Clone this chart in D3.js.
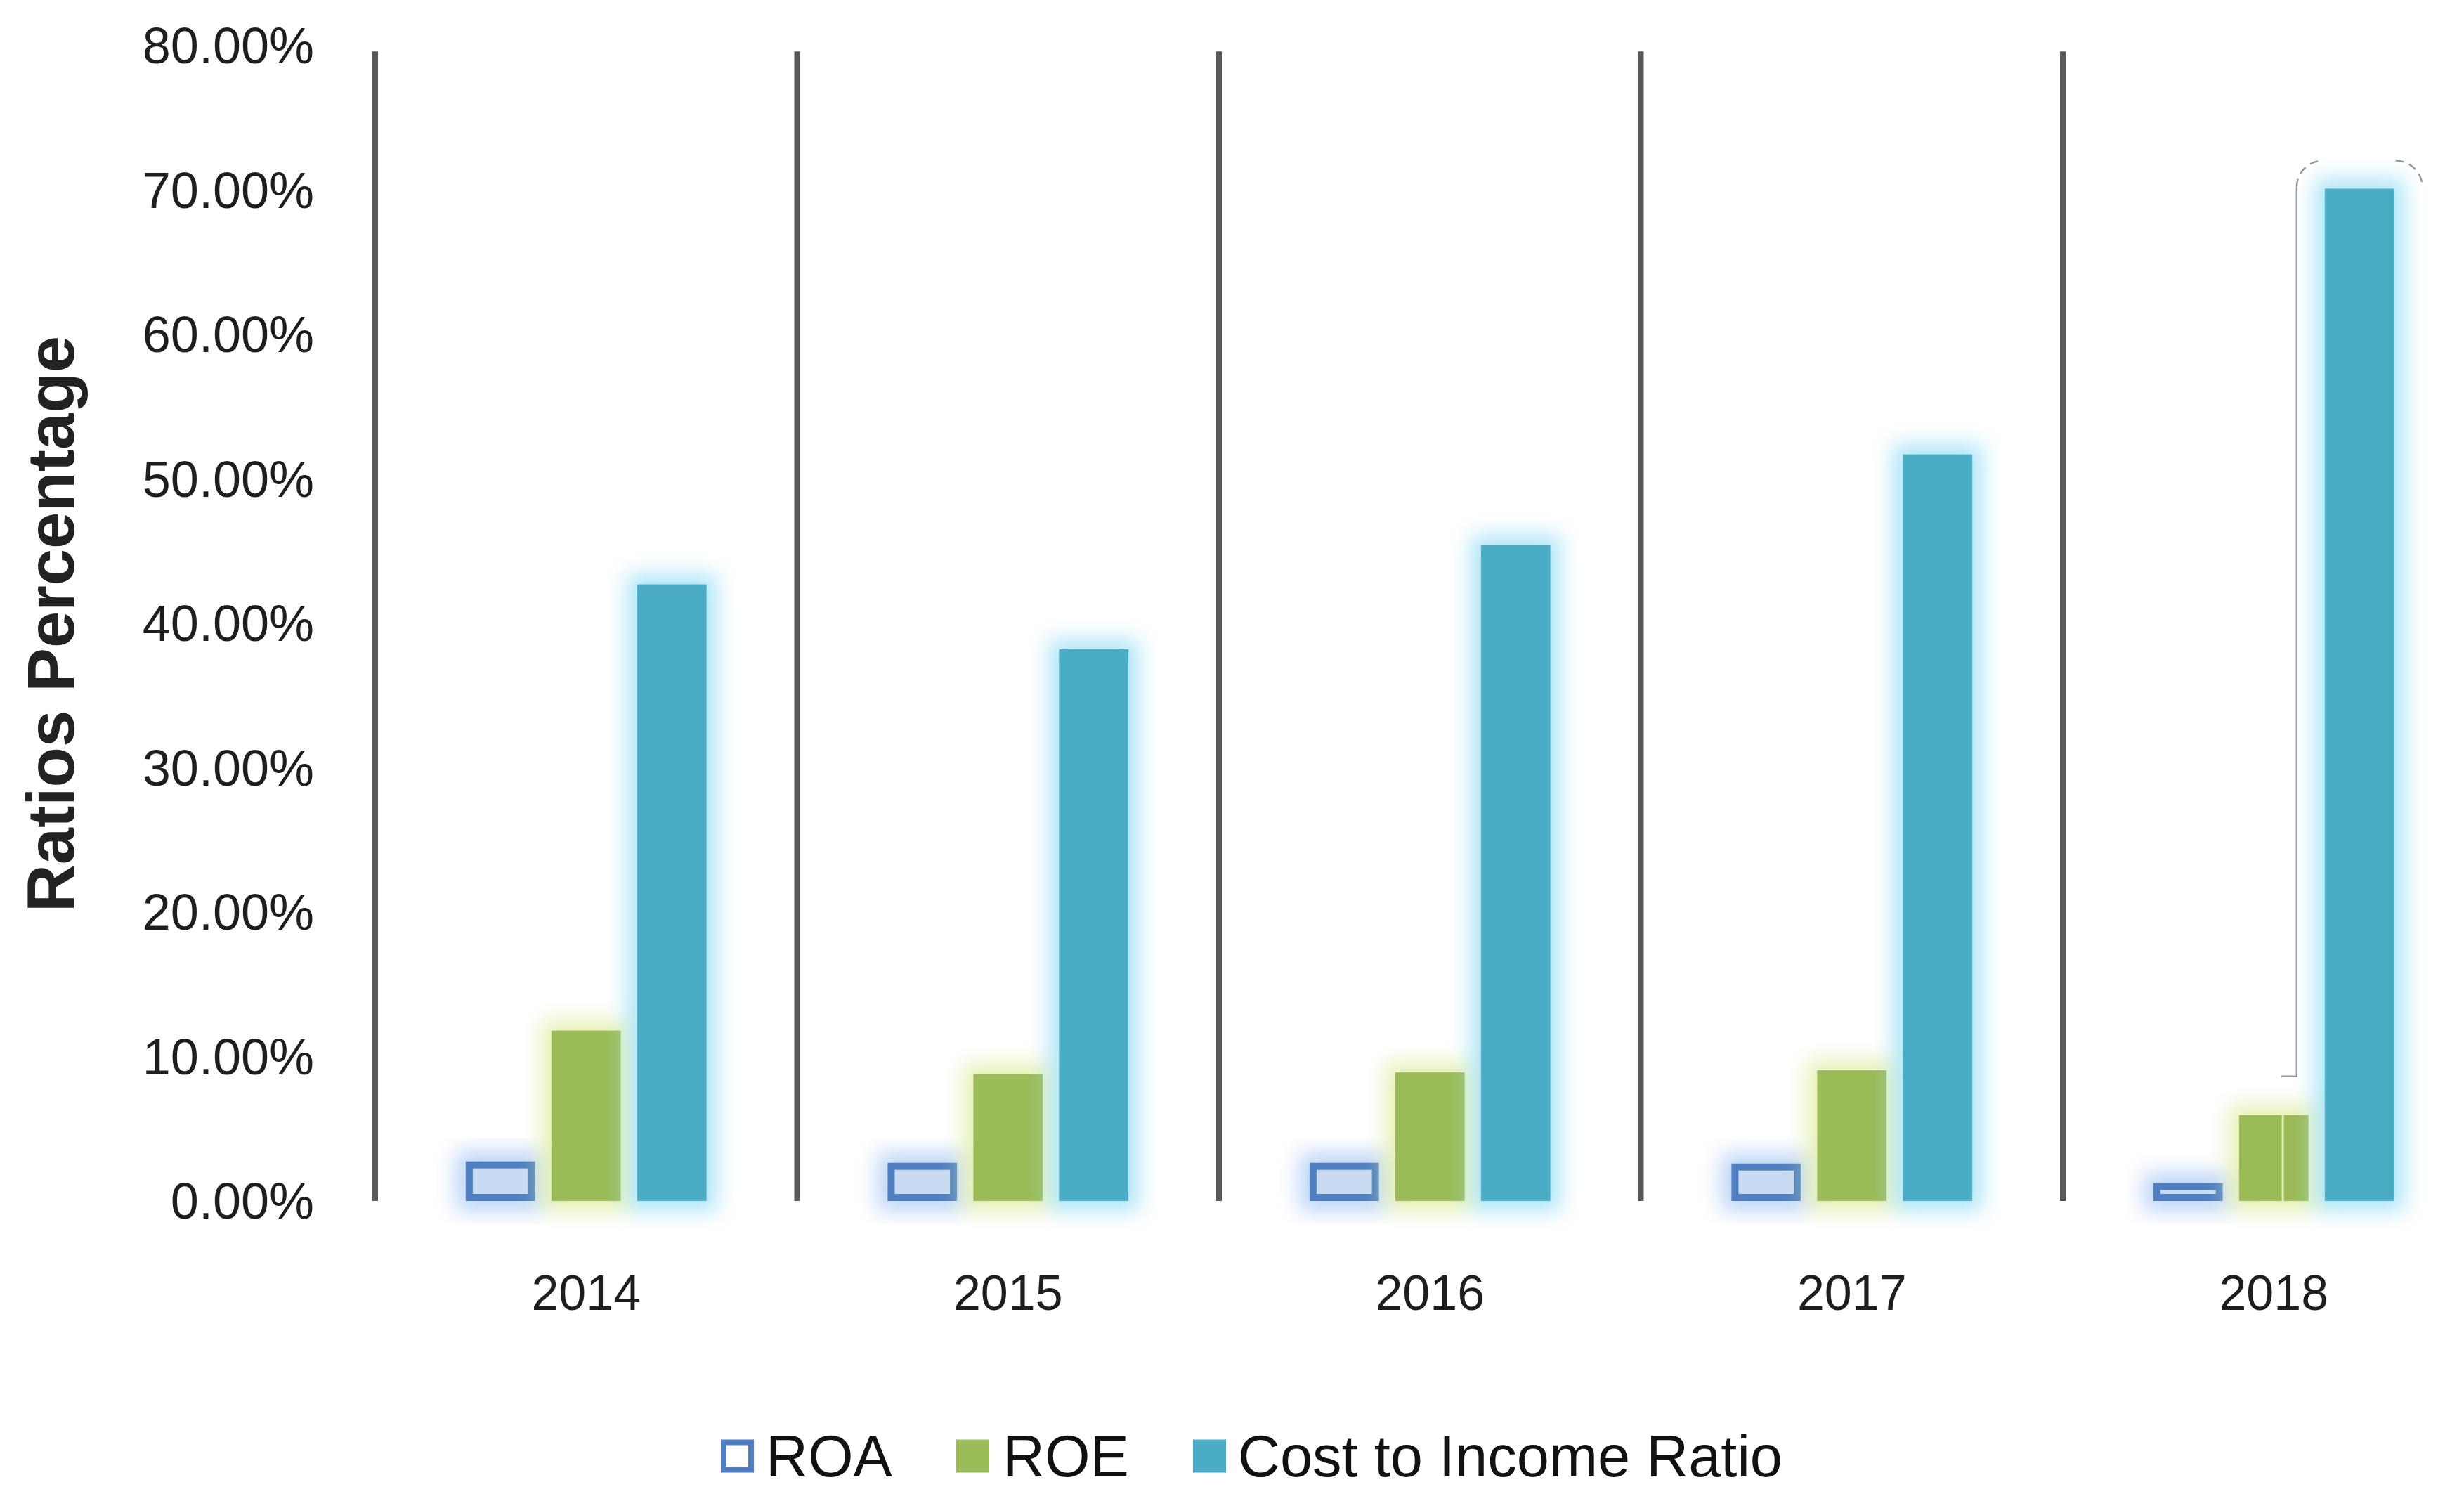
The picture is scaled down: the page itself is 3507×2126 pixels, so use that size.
<!DOCTYPE html>
<html>
<head>
<meta charset="utf-8">
<script src="https://cdn.jsdelivr.net/npm/d3@7"></script>
<style>
  html, body { margin: 0; padding: 0; background: #ffffff; }
  svg { display: block; }
  text { font-family: Arial, "Liberation Sans", sans-serif; }
</style>
</head>
<body>
<svg id="chart" width="3507" height="2126"></svg>
<script>
// ---- data ----
const years = ["2014", "2015", "2016", "2017", "2018"];
const seriesNames = ["ROA", "ROE", "Cost to Income Ratio"];
const roa = [2.5, 2.4, 2.4, 2.35, 1.0];
const roe = [11.8, 8.8, 8.9, 9.05, 5.95];
const costToIncome = [42.7, 38.2, 45.4, 51.7, 70.1];
const yTicks = [0, 10, 20, 30, 40, 50, 60, 70, 80];
const yTitle = "Ratios Percentage";

// ---- layout ----
const W = 3507, H = 2126;
const svg = d3.select("#chart");
const plotLeft = 534, bandStep = 600.5;
const plotTop = 65, plotBottom = 1709;

const x = d3.scaleBand().domain(years)
  .range([plotLeft, plotLeft + bandStep * years.length]).padding(0);
const pi = 0.19;
const xs = d3.scaleBand().domain(seriesNames)
  .range([-183, 183]).paddingInner(pi).paddingOuter(pi / 2);
const y = d3.scaleLinear().domain([0, 80]).range([plotBottom, plotTop]);

const colors = {
  "ROA": { fill: "#c8daf2", stroke: "#4f7fc1", glow: "#b3cff5" },
  "ROE": { fill: "#9bbb59", stroke: null, glow: "#e2efaa" },
  "Cost to Income Ratio": { fill: "#4bacc6", stroke: null, glow: "#a2e2f6" }
};

// ---- filters ----
const defs = svg.append("defs");
seriesNames.forEach((s, i) => {
  const f = defs.append("filter").attr("id", "glow" + i)
    .attr("x", "-80%").attr("y", "-80%").attr("width", "260%").attr("height", "260%");
  f.append("feMorphology").attr("in", "SourceAlpha").attr("operator", "dilate")
    .attr("radius", 14).attr("result", "d");
  f.append("feGaussianBlur").attr("in", "d").attr("stdDeviation", 15).attr("result", "b");
  f.append("feFlood").attr("flood-color", colors[s].glow).attr("flood-opacity", 0.9);
  f.append("feComposite").attr("in2", "b").attr("operator", "in").attr("result", "g");
  const m = f.append("feMerge");
  m.append("feMergeNode").attr("in", "g");
  m.append("feMergeNode").attr("in", "SourceGraphic");
});

// ---- y tick labels ----
svg.append("g").selectAll("text").data(yTicks).join("text")
  .attr("x", 447).attr("y", d => y(d))
  .attr("text-anchor", "end").attr("dominant-baseline", "central")
  .attr("font-size", 72).attr("fill", "#1e1e1e")
  .text(d => d.toFixed(2) + "%");

// ---- y title ----
svg.append("text")
  .attr("transform", `translate(72, 888) rotate(-90)`)
  .attr("text-anchor", "middle").attr("dominant-baseline", "central")
  .attr("font-size", 94).attr("font-weight", "bold").attr("fill", "#222")
  .text(yTitle);

// ---- vertical separators ----
svg.append("g").selectAll("line").data(years).join("line")
  .attr("x1", d => x(d)).attr("x2", d => x(d))
  .attr("y1", y(79.6)).attr("y2", plotBottom)
  .attr("stroke", "#585858").attr("stroke-width", 8);

// ---- bars ----
const seriesData = [roa, roe, costToIncome];
const barsG = svg.append("g");
seriesNames.forEach((s, si) => {
  const g = barsG.append("g").attr("filter", `url(#glow${si})`);
  const vals = seriesData[si];
  if (s === "ROA") {
    const sw = 10;
    g.selectAll("rect").data(years).join("rect")
      .attr("x", (d) => x(d) + x.bandwidth() / 2 + xs(s) + sw / 2)
      .attr("width", xs.bandwidth() - sw)
      .attr("y", (d, i) => y(vals[i]))
      .attr("height", (d, i) => y(0) - y(vals[i]) - sw / 2)
      .attr("fill", colors[s].fill)
      .attr("stroke", colors[s].stroke).attr("stroke-width", sw);
  } else {
    g.selectAll("rect").data(years).join("rect")
      .attr("x", d => x(d) + x.bandwidth() / 2 + xs(s))
      .attr("width", xs.bandwidth())
      .attr("y", (d, i) => y(vals[i]))
      .attr("height", (d, i) => y(0) - y(vals[i]))
      .attr("fill", colors[s].fill);
  }
});

// ---- annotation artefact around the 2018 cost-to-income bar ----
(function () {
  const yr = years[4];
  const bx = x(yr) + x.bandwidth() / 2 + xs("Cost to Income Ratio");
  const lx = bx - 40, rx = bx + xs.bandwidth() + 40;
  const topY = y(costToIncome[4]) - 40;
  const botY = y(roe[4]) - 55;
  const r = 38;
  svg.append("path")
    .attr("d", `M${lx - 22},${botY} L${lx},${botY} L${lx},${topY + r}`)
    .attr("fill", "none").attr("stroke", "#9a9a9a").attr("stroke-width", 2.5);
  svg.append("path")
    .attr("d", `M${lx},${topY + r} A${r},${r} 0 0 1 ${lx + r},${topY} M${rx - r},${topY} A${r},${r} 0 0 1 ${rx},${topY + r}`)
    .attr("fill", "none").attr("stroke", "#9a9a9a").attr("stroke-width", 2.5)
    .attr("stroke-dasharray", "12,8");
  const ex = x(yr) + x.bandwidth() / 2 + xs("ROE");
  svg.append("line")
    .attr("x1", ex + xs.bandwidth() * 0.63).attr("x2", ex + xs.bandwidth() * 0.63)
    .attr("y1", y(roe[4])).attr("y2", y(0))
    .attr("stroke", "#dfeeb0").attr("stroke-width", 3);
})();

// ---- x labels ----
svg.append("g").selectAll("text").data(years).join("text")
  .attr("x", d => x(d) + x.bandwidth() / 2).attr("y", 1840)
  .attr("text-anchor", "middle").attr("dominant-baseline", "central")
  .attr("font-size", 70).attr("fill", "#1e1e1e")
  .text(d => d);

// ---- legend ----
const legendItems = [
  { name: seriesNames[0], sx: 1026, tx: 1090 },
  { name: seriesNames[1], sx: 1361, tx: 1427 },
  { name: seriesNames[2], sx: 1698, tx: 1762 }
];
const lg = svg.append("g");
const ly = 2072, ls = 47;
legendItems.forEach((it) => {
  const c = colors[it.name];
  if (it.name === "ROA") {
    lg.append("rect").attr("x", it.sx + 4).attr("y", ly - ls / 2 + 4)
      .attr("width", ls - 8).attr("height", ls - 8)
      .attr("fill", "#ffffff").attr("stroke", c.stroke).attr("stroke-width", 8);
  } else {
    lg.append("rect").attr("x", it.sx).attr("y", ly - ls / 2)
      .attr("width", ls).attr("height", ls).attr("fill", c.fill);
  }
  lg.append("text").attr("x", it.tx).attr("y", ly)
    .attr("dominant-baseline", "central").attr("font-size", 83).attr("fill", "#111")
    .text(it.name);
});
</script>
</body>
</html>
